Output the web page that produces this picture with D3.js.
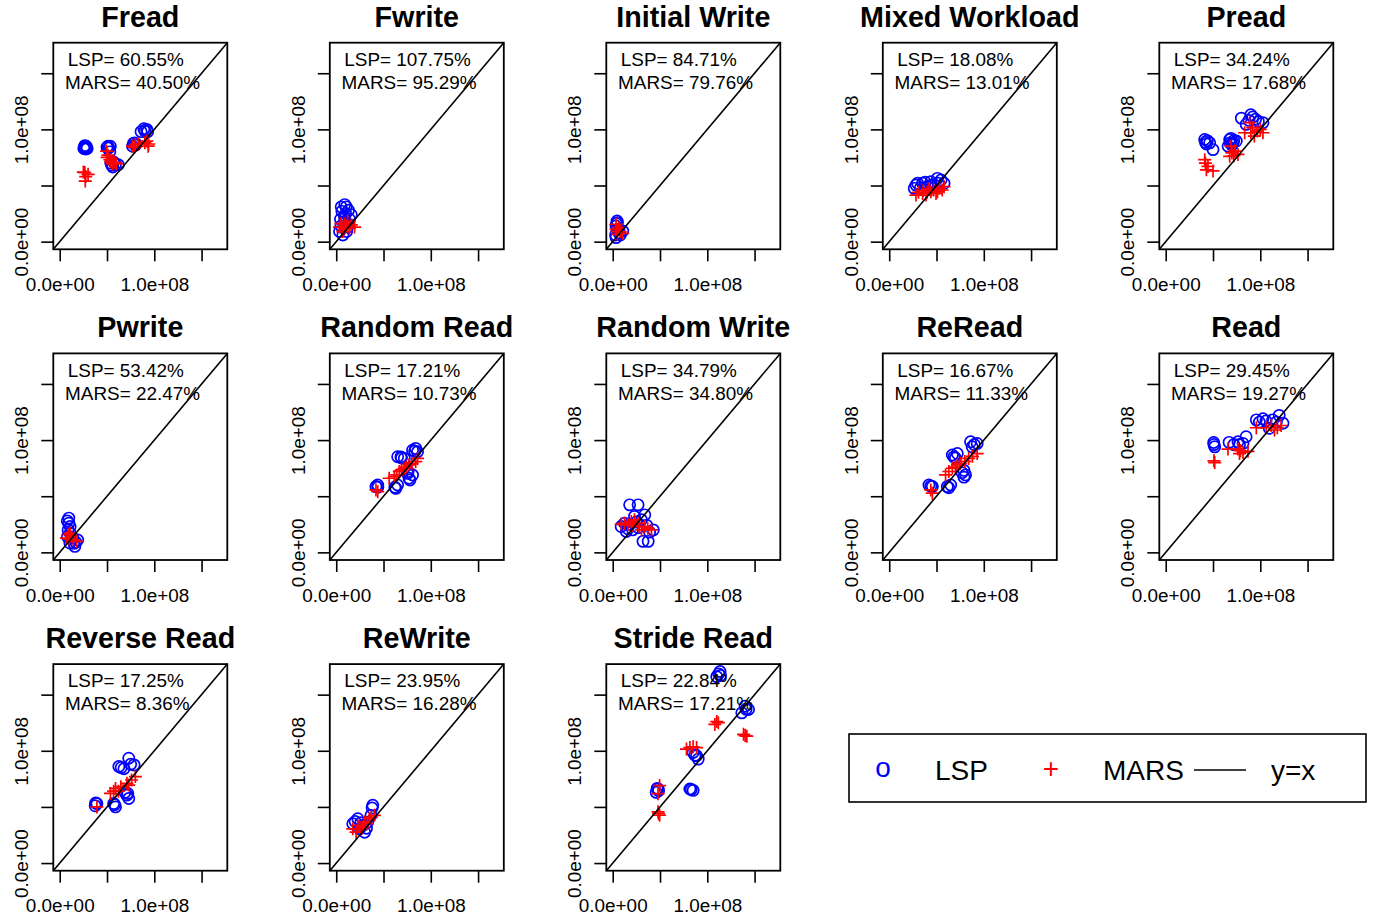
<!DOCTYPE html>
<html>
<head>
<meta charset="utf-8">
<script src="https://cdn.jsdelivr.net/npm/d3@7"></script>
<style>
  body { margin: 0; background: #fff; }
  svg { font-family: "Liberation Sans", Arial, Helvetica, sans-serif; }
</style>
</head>
<body>
<svg id="chart" width="1377" height="920"></svg>
<script>
// values in units of 1e6 : [measured, predicted]
const titles = ["Fread", "Fwrite", "Initial Write", "Mixed Workload", "Pread",
	"Pwrite", "Random Read", "Random Write", "ReRead", "Read",
	"Reverse Read", "ReWrite", "Stride Read"];
const lspErr = ["60.55", "107.75", "84.71", "18.08", "34.24", "53.42", "17.21",
	"34.79", "16.67", "29.45", "17.25", "23.95", "22.84"];
const marsErr = ["40.50", "95.29", "79.76", "13.01", "17.68", "22.47", "10.73",
	"34.80", "11.33", "19.27", "8.36", "16.28", "17.21"];

const freadLsp = [[26, 84], [27.5, 82.5], [28, 85], [25.5, 83], [27, 83.5], [26.5, 85.5], [29, 83],
	[51, 85], [52, 83.5], [53, 80], [50, 84], [53.5, 85],
	[55, 68], [56, 66.5], [59, 69], [62, 68.5], [54, 70], [57, 71],
	[78, 87.5], [80, 86], [77, 85], [79, 88], [81, 87],
	[92, 100], [90, 98.5], [86, 98], [93, 98], [89, 100.5]];
const freadMars = [[26.5, 61.5], [27, 54], [30, 60], [25, 62], [27.5, 58],
	[49.5, 80.7], [51, 77], [53, 73], [50, 75], [54, 71],
	[56, 69], [60, 69.5], [58, 70.5],
	[80, 86.6], [77, 85], [83, 87], [79, 84],
	[92, 89.6], [93.5, 85], [90, 88], [94, 87]];

const fwriteLsp = [[5.3, 31], [10.6, 31], [8.8, 22], [15.9, 24], [3.5, 9], [7, 6], [12, 13],
	[8.8, 18], [6, 27], [13, 28], [9, 33], [4.5, 20], [10, 25], [14, 20], [5, 14], [11, 9]];
const fwriteMars = [[8.8, 16], [3.5, 13], [16, 15], [7, 9], [12, 18], [19.4, 13], [10, 14],
	[5, 16], [14, 12], [8, 11]];

const initialWriteLsp = [[4.6, 18.4], [3.5, 14], [6.4, 8], [10.6, 9.5], [3.5, 3.6], [6.6, 11],
	[4, 16], [5, 17], [3, 6], [8, 6]];
const initialWriteMars = [[3.5, 11], [6.4, 12.5], [10.6, 7.4], [5, 6.5], [3.5, 15.4], [8, 9], [4.5, 9]];

const mixedLsp = [[28.3, 50.4], [35.3, 52], [44, 53.4], [51, 56.4], [58, 52], [40.6, 49],
	[26.5, 47.5], [54.8, 54.9], [33, 48], [47, 51], [30, 52], [38, 53], [52, 52], [44, 50]];
const mixedMars = [[28.3, 41.5], [35.3, 43], [44, 44.5], [53, 47.5], [58, 49], [39, 41.5],
	[49.5, 43], [31, 44], [42, 47], [56, 46], [36, 45.5], [47, 46], [51, 44.5], [40, 44]];

const preadLsp = [[41.2, 91], [46.5, 88], [50, 82], [43, 87], [44, 90], [42, 88.5],
	[67.6, 91], [71, 88], [66, 85], [74.6, 89.6], [69, 92], [72, 90], [68, 88], [70, 86],
	[80, 110], [90, 113], [95, 109], [102.8, 106], [85, 104.5], [98, 107], [88, 108], [92, 111]];
const preadMars = [[41.2, 73], [44.7, 67], [50, 63], [43, 64], [42, 70],
	[67.6, 76], [73, 80.7], [76.4, 77.7], [69, 85], [70, 79], [72, 76.5],
	[83.5, 97], [92, 101.5], [97, 98.5], [102.8, 97], [88.7, 106], [93.7, 94], [90, 97], [100, 100]];

const pwriteLsp = [[9.6, 26], [8.9, 20], [8.2, 14], [13.9, 12.7], [19, 11], [16, 5.3],
	[10.7, 8.3], [9.6, 30.5], [11, 23], [17, 9], [8, 28], [11, 17], [15, 8]];
const pwriteMars = [[9.6, 15.7], [12.5, 14], [17.9, 9.8], [7.1, 12.7], [14.3, 11.2], [11, 17], [10, 12]];

const randomReadLsp = [[43.9, 60], [42, 58.6], [44, 58], [63, 57], [64.9, 60], [62, 58],
	[68.4, 85], [65, 85.2], [72, 83.7], [69, 84], [84, 92.6], [80.7, 91], [86, 89.6], [83, 90],
	[77, 66], [80.7, 68.9], [75.4, 70.4], [78, 64.5], [76, 72]];
const randomReadMars = [[43.9, 54], [42, 55.6], [61.4, 67.5], [66.7, 72], [72, 75], [77, 78],
	[84, 80.8], [86, 83.7], [56, 66], [69, 73.5], [80, 79], [64, 69], [74, 76]];

const randomWriteLsp = [[17.9, 42.3], [26.8, 42.3], [12.5, 26], [14.3, 18.6], [23, 32], [30.4, 29],
	[33.9, 33.4], [42.9, 20], [32, 9.8], [37.5, 9.8], [8.9, 23], [21, 20], [27, 22], [36, 24],
	[18, 25], [25, 27], [16, 21], [39, 18]];
const randomWriteMars = [[12.5, 26], [19.6, 27.5], [26.8, 26], [33.9, 23], [41, 20], [16, 24.6],
	[23, 29], [30.4, 20], [9, 25], [37, 21.5], [21, 24], [28, 23]];

const reReadLsp = [[42, 60], [45.6, 58.6], [44, 59], [61.4, 58.6], [65, 60], [63, 57.5],
	[66.7, 86.7], [72, 88], [68.4, 85], [70, 84], [79, 73], [80.7, 69], [77, 71], [79, 67],
	[86, 98.5], [93, 97], [87.7, 94], [90, 96]];
const reReadMars = [[43.9, 55.6], [45.6, 52.7], [59.6, 69], [66.7, 74.9], [75.4, 79.3],
	[84, 83.7], [93, 88], [72, 78], [63, 72], [88, 85.5], [70, 76], [80, 81]];

const readLsp = [[50.7, 97.9], [51.8, 94], [51, 96], [67, 98], [76.4, 98.5], [85, 103], [81.7, 97],
	[78, 96], [95.8, 118], [102.8, 119], [113, 118], [120, 122], [124, 115], [109.5, 110.5],
	[72, 96], [99, 116], [106, 117], [117, 116]];
const readMars = [[51.8, 80], [51, 81.5], [65.8, 92], [76.4, 92], [81.7, 89], [87, 90], [79, 90.5],
	[95.8, 111], [106.3, 111], [115, 109], [122, 113], [111.6, 113], [78, 88], [118, 111]];

const reverseReadLsp = [[39.3, 53], [37.5, 51], [38, 53.5], [57, 53], [59, 50], [58, 52],
	[62.5, 86], [67.9, 84], [65, 85], [73, 93.4], [78.6, 87.4], [75, 88],
	[71, 60.5], [73, 57.5], [69, 63], [72, 62]];
const reverseReadMars = [[39.3, 50], [53.6, 62], [59, 66.5], [64.6, 68], [71, 71], [80, 77],
	[73, 69.5], [57, 64], [62, 64], [76, 74]];

const reWriteLsp = [[17.5, 35], [22.8, 39.5], [28, 33.5], [33.3, 36.5], [30, 27.5], [38.6, 51.5],
	[36.8, 42.5], [24.6, 30.5], [38, 49], [20, 37], [26, 36], [32, 31]];
const reWriteMars = [[17.5, 30.5], [22.8, 33.5], [30, 36.5], [35, 39.5], [40.4, 42.5],
	[21, 27.5], [28, 32], [37, 41], [25, 30], [33, 35]];

const strideReadLsp = [[113.5, 170.6], [110, 166], [112, 168.5], [114, 167],
	[140, 139.7], [143.6, 136.8], [136.5, 133.8], [141, 137],
	[88.7, 95.6], [85, 98.5], [90.4, 92.6], [87, 96],
	[47.9, 66], [46, 63], [48.5, 64.5], [47, 66.5],
	[81.6, 66], [85, 64.7], [83, 65.5]];
const strideReadMars = [[111.7, 125], [108, 123.5], [110, 126], [141.8, 113], [138.3, 114.7], [140, 113.5],
	[81.6, 102.9], [88.7, 102.9], [78, 101.5], [85, 103.5], [49.6, 69], [47.9, 61.8],
	[47.9, 45.6], [49.6, 42.6], [48.5, 44]];

const lspPoints = [freadLsp, fwriteLsp, initialWriteLsp, mixedLsp, preadLsp, pwriteLsp,
	randomReadLsp, randomWriteLsp, reReadLsp, readLsp, reverseReadLsp, reWriteLsp, strideReadLsp];
const marsPoints = [freadMars, fwriteMars, initialWriteMars, mixedMars, preadMars, pwriteMars,
	randomReadMars, randomWriteMars, reReadMars, readMars, reverseReadMars, reWriteMars, strideReadMars];

const tickValues = [0, 50, 100, 150];
const tickLabels = { 0: "0.0e+00", 100: "1.0e+08" };
const legendLabels = ["LSP", "MARS", "y=x"];

const svg = d3.select("#chart");
const boxW = 174, boxH = 206.6;
const colStep = 276.5, rowStep = 310.7;
const left0 = 53.3, top0 = 42.7;
const domain = [-6.8, 177.2];
const labelFont = "18.9px";

const x = d3.scaleLinear().domain(domain).range([0, boxW]);
const y = d3.scaleLinear().domain(domain).range([boxH, 0]);

titles.forEach((title, i) => {
	const col = i % 5, row = Math.floor(i / 5);
	const g = svg.append("g")
		.attr("transform", `translate(${left0 + col * colStep},${top0 + row * rowStep})`);

	// points first, then line, then text on top
	g.selectAll("circle")
		.data(lspPoints[i])
		.join("circle")
		.attr("cx", (d) => x(d[0]))
		.attr("cy", (d) => y(d[1]))
		.attr("r", 5.6)
		.attr("fill", "none")
		.attr("stroke", "#0000ff")
		.attr("stroke-width", 1.7);

	g.selectAll("path.plus")
		.data(marsPoints[i])
		.join("path")
		.attr("class", "plus")
		.attr("d", (d) => {
			const cx = x(d[0]), cy = y(d[1]), s = 6.5;
			return `M${cx - s},${cy}H${cx + s}M${cx},${cy - s}V${cy + s}`;
		})
		.attr("stroke", "#ff0000")
		.attr("stroke-width", 1.7);

	g.append("line")
		.attr("x1", x(domain[0])).attr("y1", y(domain[0]))
		.attr("x2", x(domain[1])).attr("y2", y(domain[1]))
		.attr("stroke", "#000")
		.attr("stroke-width", 1.6);

	g.append("rect")
		.attr("width", boxW)
		.attr("height", boxH)
		.attr("fill", "none")
		.attr("stroke", "#000")
		.attr("stroke-width", 1.8);

	const xAxis = g.append("g")
		.attr("transform", `translate(0,${boxH})`)
		.call(d3.axisBottom(x).tickValues(tickValues).tickSize(12)
			.tickFormat((d) => tickLabels[d] || ""));
	xAxis.select(".domain").remove();
	xAxis.selectAll("line").attr("stroke-width", 1.6);
	xAxis.selectAll("text")
		.attr("y", 41.7)
		.attr("dy", null)
		.attr("fill", "#000")
		.style("font-size", labelFont)
		.style("font-family", "Liberation Sans, Arial, sans-serif");

	const yAxis = g.append("g")
		.call(d3.axisLeft(y).tickValues(tickValues).tickSize(12)
			.tickFormat((d) => tickLabels[d] || ""));
	yAxis.select(".domain").remove();
	yAxis.selectAll("line").attr("stroke-width", 1.6);
	yAxis.selectAll("text")
		.attr("transform", "rotate(-90)")
		.attr("x", 0)
		.attr("y", -25.3)
		.attr("dy", null)
		.attr("text-anchor", "middle")
		.attr("fill", "#000")
		.style("font-size", labelFont)
		.style("font-family", "Liberation Sans, Arial, sans-serif");

	g.append("text")
		.attr("x", boxW / 2)
		.attr("y", -16)
		.attr("text-anchor", "middle")
		.attr("font-weight", "bold")
		.attr("font-size", 28.7)
		.text(title);

	g.append("text")
		.attr("x", 14.5)
		.attr("y", 23.3)
		.attr("font-size", 18.9)
		.text(`LSP= ${lspErr[i]}%`);

	g.append("text")
		.attr("x", 11.8)
		.attr("y", 46.3)
		.attr("font-size", 18.9)
		.text(`MARS= ${marsErr[i]}%`);
});

// legend
const legend = svg.append("g").attr("transform", "translate(849,734)");
legend.append("rect")
	.attr("width", 517)
	.attr("height", 68)
	.attr("fill", "none")
	.attr("stroke", "#000")
	.attr("stroke-width", 1.6);
legend.append("text")
	.attr("x", 34).attr("y", 43)
	.attr("text-anchor", "middle")
	.attr("font-size", 28)
	.attr("fill", "#0000ff")
	.text("o");
legend.append("text")
	.attr("x", 86).attr("y", 46)
	.attr("font-size", 28)
	.text(legendLabels[0]);
legend.append("text")
	.attr("x", 202).attr("y", 44)
	.attr("text-anchor", "middle")
	.attr("font-size", 28)
	.attr("fill", "#ff0000")
	.text("+");
legend.append("text")
	.attr("x", 254).attr("y", 46)
	.attr("font-size", 28)
	.text(legendLabels[1]);
legend.append("line")
	.attr("x1", 345).attr("x2", 397)
	.attr("y1", 36).attr("y2", 36)
	.attr("stroke", "#000")
	.attr("stroke-width", 1.6);
legend.append("text")
	.attr("x", 422).attr("y", 46)
	.attr("font-size", 28)
	.text(legendLabels[2]);
</script>
</body>
</html>
